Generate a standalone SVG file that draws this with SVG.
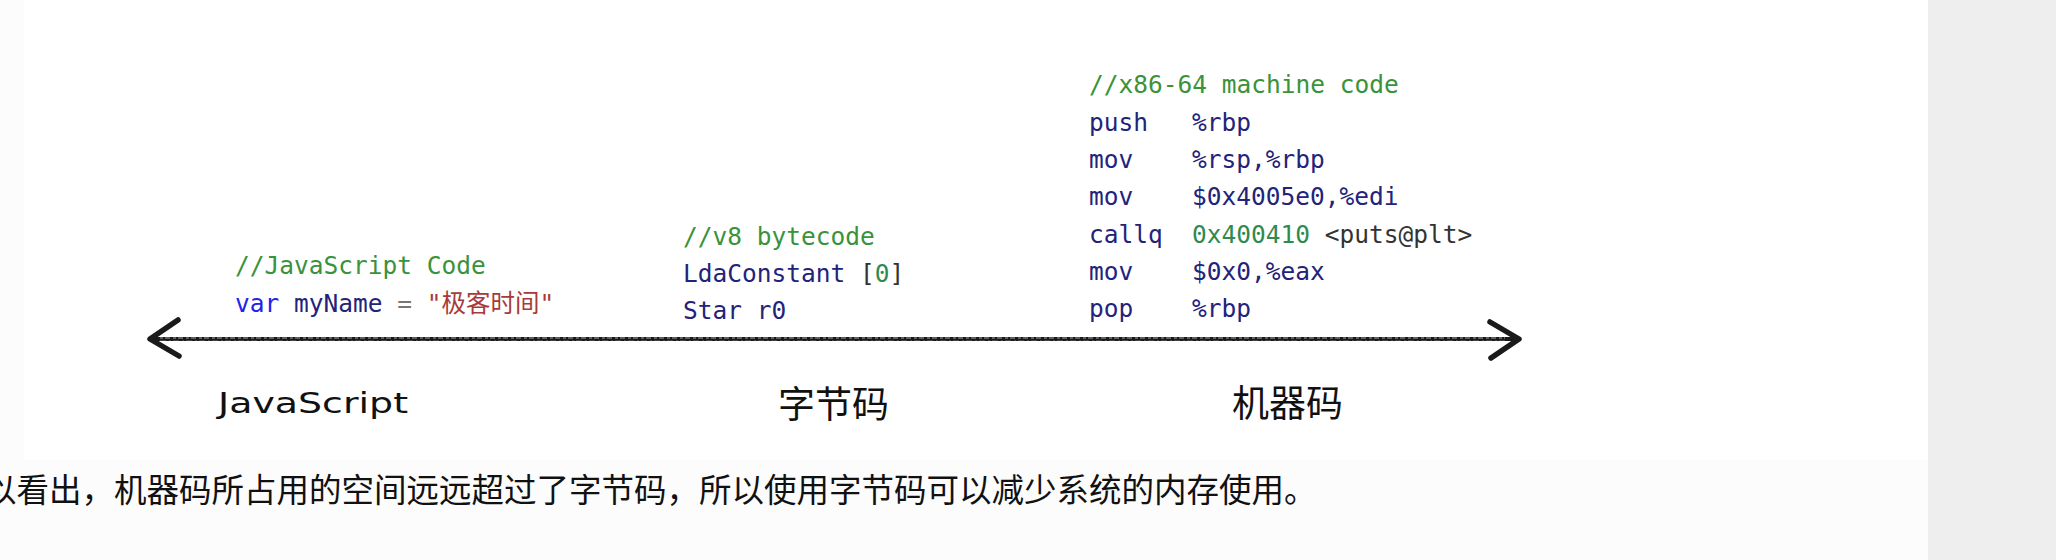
<svg xmlns="http://www.w3.org/2000/svg" width="2056" height="560" viewBox="0 0 2056 560">
  <style>
    .code { font-family: "DejaVu Sans Mono", "Noto Sans CJK SC", monospace; font-size: 24.5px; }
    .cm { fill: #3a923a; }
    .ins { fill: #23237a; }
    .kw { fill: #2222ee; }
    .op { fill: #777777; }
    .str { fill: #a83a3a; }
    .num { fill: #2f8a4f; }
    .plain { fill: #333333; }
    .label { font-family: "Noto Sans CJK SC", sans-serif; font-size: 37px; fill: #111111; }
    .body { font-family: "Noto Sans CJK SC", sans-serif; font-size: 32.5px; fill: #111111; }
    .sketch { fill: none; stroke: #1a1a1a; stroke-linecap: round; stroke-linejoin: round; }
  </style>
  <defs>
    <marker id="chev" viewBox="-34 -24 40 48" markerWidth="40" markerHeight="48" refX="0" refY="0" orient="auto-start-reverse" markerUnits="userSpaceOnUse">
      <path d="M -29 -17 L 0 0 L -28 19" fill="none" stroke="#1a1a1a" stroke-width="5.5" stroke-linecap="round" stroke-linejoin="round"/>
    </marker>
  </defs>

  <rect x="0" y="0" width="2056" height="560" fill="#fcfcfc"/>
  <rect x="24" y="0" width="1904" height="460" fill="#ffffff"/>
  <rect x="1928" y="0" width="128" height="560" fill="#eeeeee"/>

  <g id="connectors">
    <path d="M 150 339 L 1519 339" class="sketch" stroke-width="4" marker-start="url(#chev)" marker-end="url(#chev)"/>
    <path d="M 160 338 L 1505 338" fill="none" stroke="#777777" stroke-width="1.6" stroke-dasharray="3 2 5 3"/>
    <path d="M 160 340.5 L 1505 340.5" fill="none" stroke="#444444" stroke-width="1.2" stroke-dasharray="6 3 2 2"/>
  </g>

  <g id="node-javascript">
    <text class="code" x="235" y="274" xml:space="preserve"><tspan class="cm">//JavaScript Code</tspan></text>
    <text class="code" x="235" y="312" xml:space="preserve"><tspan class="kw">var</tspan> <tspan class="ins">myName</tspan> <tspan class="op">=</tspan> <tspan class="str">"极客时间"</tspan></text>
    <text x="218" y="413" textLength="190" lengthAdjust="spacingAndGlyphs" style="font-family: 'DejaVu Sans', sans-serif; font-size: 29px; fill: #111111;">JavaScript</text>
  </g>

  <g id="node-bytecode">
    <text class="code" x="683" y="245"><tspan class="cm">//v8 bytecode</tspan></text>
    <text class="code" x="683" y="282" xml:space="preserve"><tspan class="ins">LdaConstant</tspan> <tspan class="plain">[</tspan><tspan class="num">0</tspan><tspan class="plain">]</tspan></text>
    <text class="code" x="683" y="319" xml:space="preserve"><tspan class="ins">Star r0</tspan></text>
    <text class="label" x="778" y="418">字节码</text>
  </g>

  <g id="node-machine">
    <text class="code cm" x="1089" y="93">//x86-64 machine code</text>
    <g class="code ins">
      <text x="1089" y="131">push</text><text x="1192" y="131">%rbp</text>
      <text x="1089" y="168">mov</text><text x="1192" y="168">%rsp,%rbp</text>
      <text x="1089" y="205">mov</text><text x="1192" y="205">$0x4005e0,%edi</text>
      <text x="1089" y="243">callq</text><text x="1192" y="243" xml:space="preserve"><tspan class="num">0x400410</tspan> <tspan class="plain">&lt;puts@plt&gt;</tspan></text>
      <text x="1089" y="280">mov</text><text x="1192" y="280">$0x0,%eax</text>
      <text x="1089" y="317">pop</text><text x="1192" y="317">%rbp</text>
    </g>
    <text class="label" x="1232" y="417">机器码</text>
  </g>

  <text class="body" x="-16" y="502">以看出，机器码所占用的空间远远超过了字节码，所以使用字节码可以减少系统的内存使用。</text>
</svg>
